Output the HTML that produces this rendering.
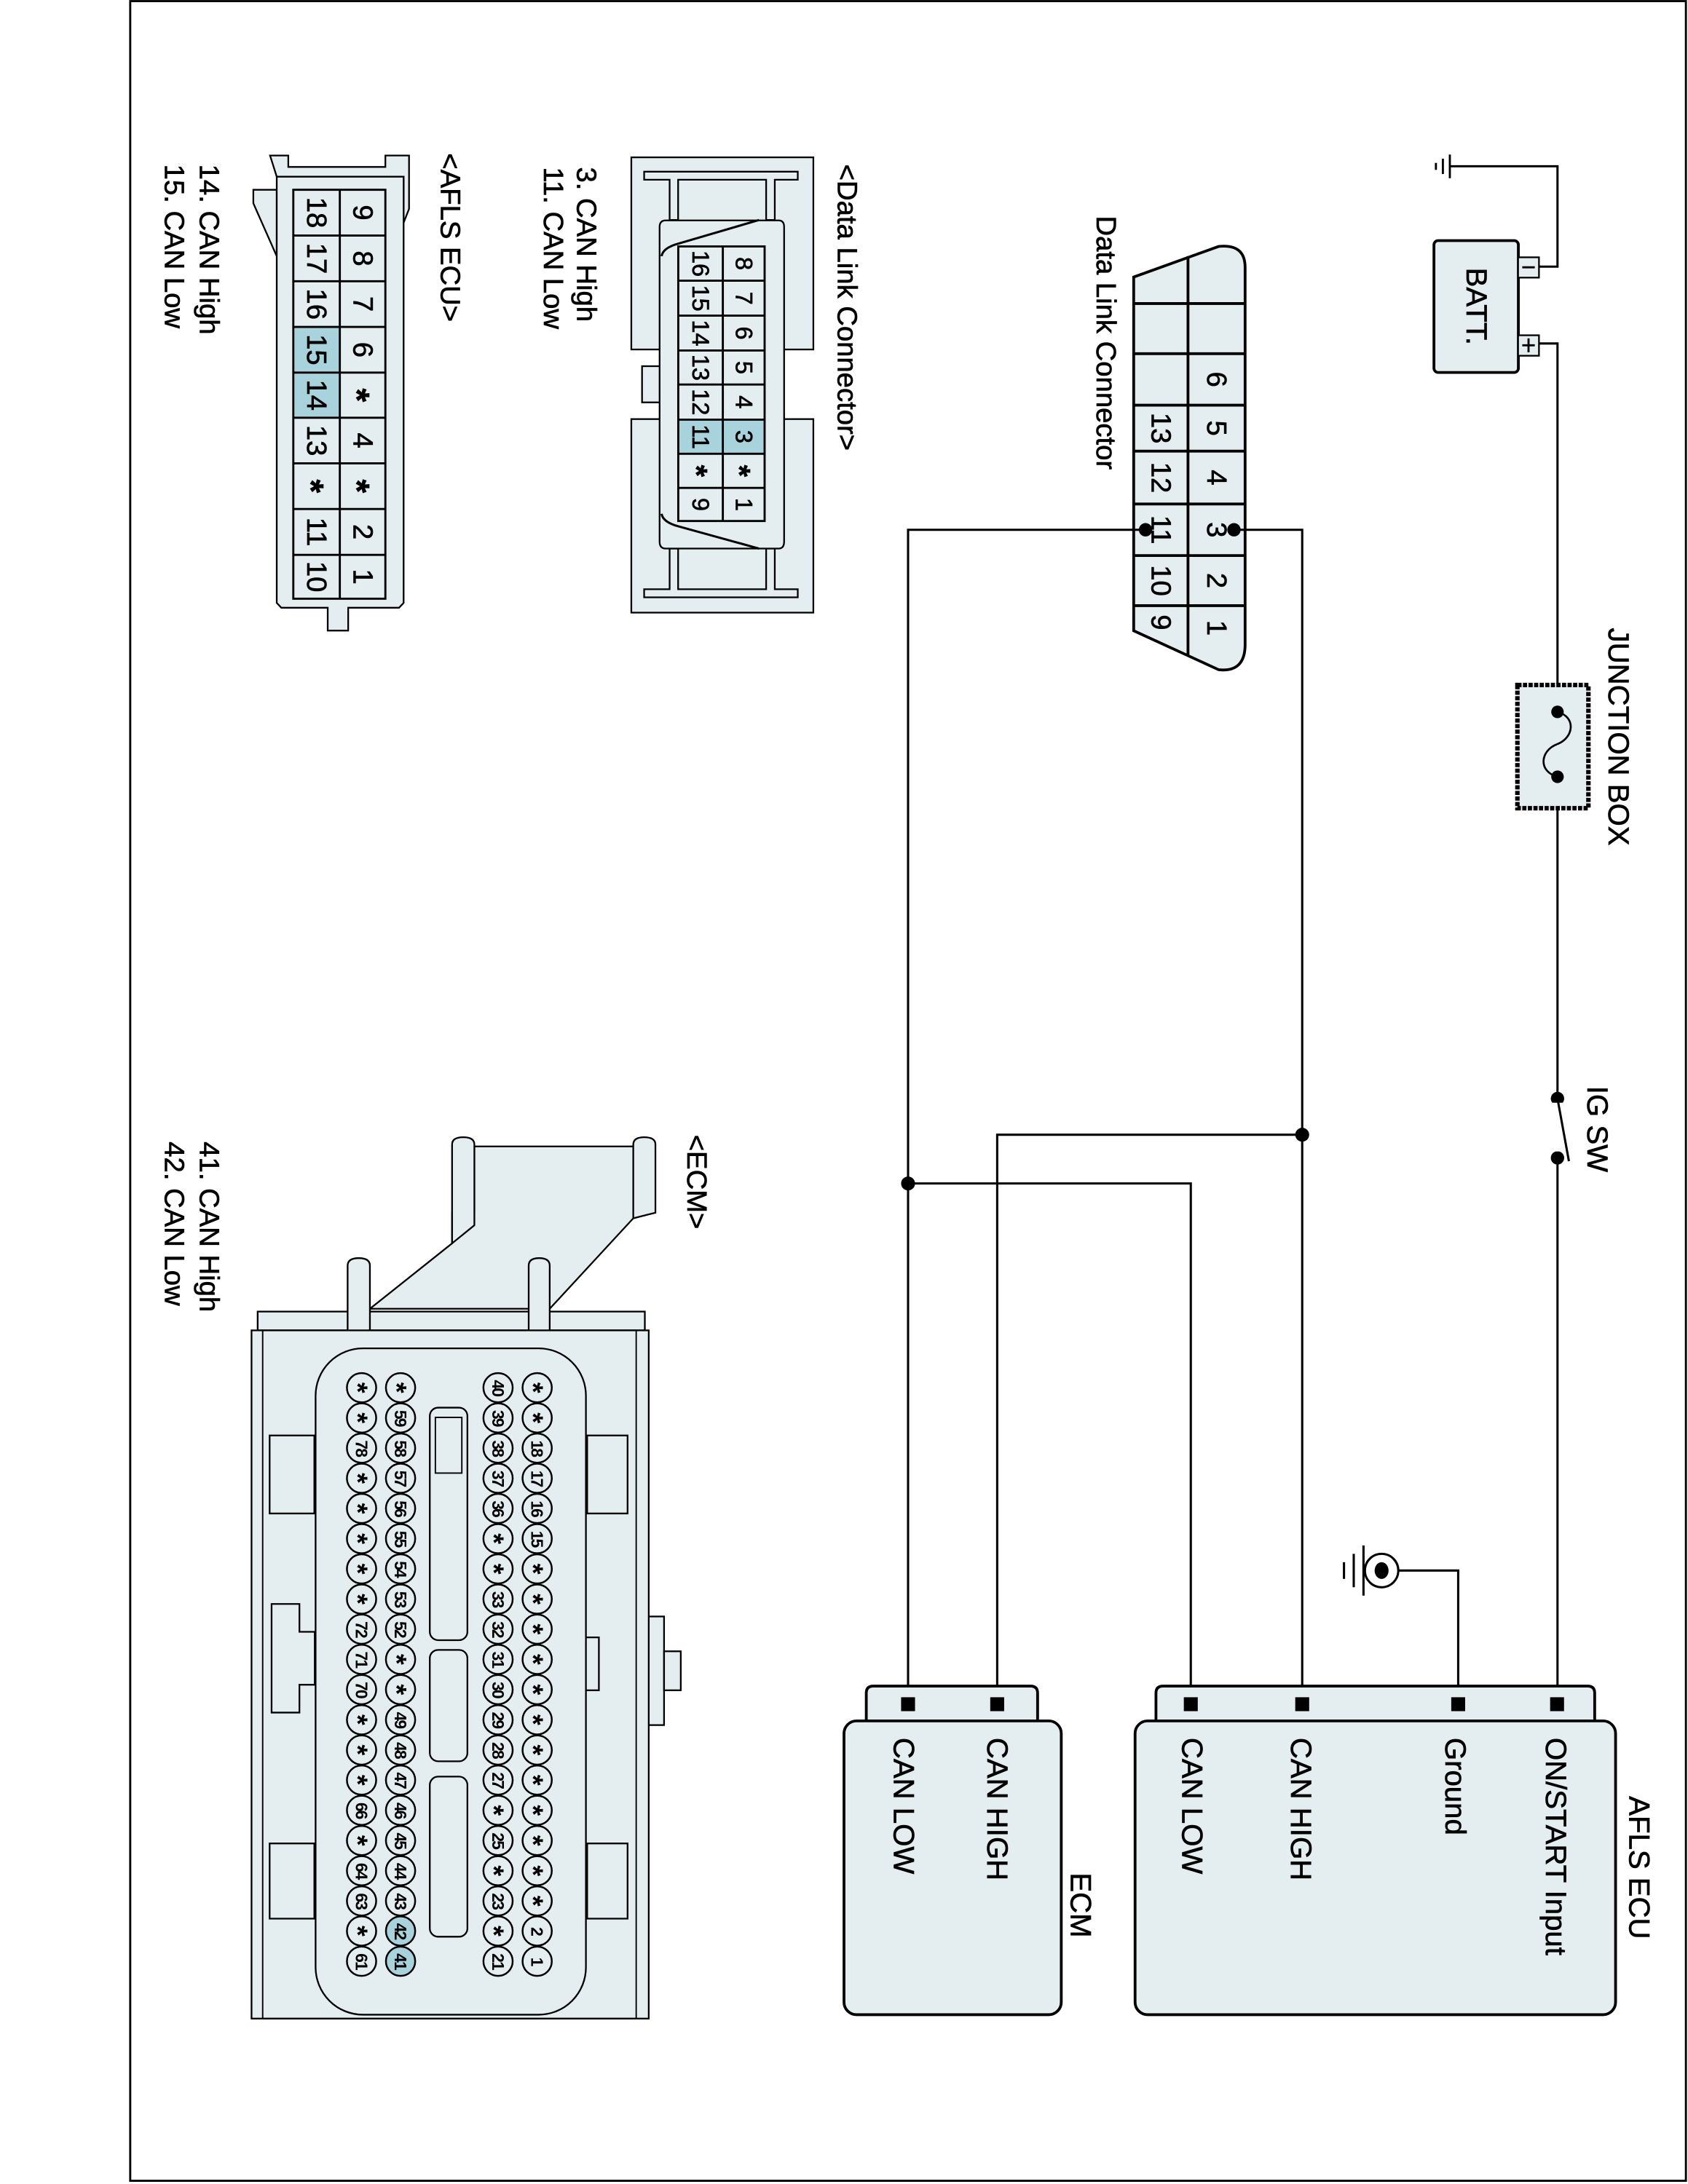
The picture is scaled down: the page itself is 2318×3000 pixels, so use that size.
<!DOCTYPE html>
<html><head><meta charset="utf-8"><style>
html,body{margin:0;padding:0;background:#fff}
svg{display:block}
text{font-family:"Liberation Sans",Arial,sans-serif;fill:#000;dominant-baseline:central;stroke:#000;stroke-width:0.35}
.c{text-anchor:middle}
.w{fill:none;stroke:#000;stroke-width:1.6}
.b{fill:#e4eef0;stroke:#000;stroke-width:2}
.t{fill:#e4eef0;stroke:#000;stroke-width:1.2}
.h{fill:#a9d3dc}
.a{font-weight:bold}
.p text{font-size:12px;font-weight:bold;letter-spacing:-1px;text-anchor:middle;stroke-width:0}
.p text[font-size]{font-size:20px;letter-spacing:0}
.p circle{fill:#e4eef0;stroke:#000;stroke-width:1.3}
</style></head><body>
<svg width="2318" height="3000" viewBox="0 0 1212 1568.6" xmlns="http://www.w3.org/2000/svg">
<rect x="0" y="0" width="1212" height="1569" fill="#fff"/>
<rect x="93.5" y="0.8" width="1117" height="1565.5" fill="none" stroke="#000" stroke-width="1.5"/>

<!-- Battery -->
<rect x="1029.6" y="172.8" width="60.6" height="94.7" rx="3" class="b"/>
<rect x="1090" y="184.8" width="15" height="14.6" class="t"/>
<rect x="1090" y="240.8" width="15" height="14.7" class="t"/>
<line x1="1093" y1="192" x2="1102" y2="192" stroke="#000" stroke-width="1.5"/>
<line x1="1093" y1="248" x2="1102" y2="248" stroke="#000" stroke-width="1.5"/>
<line x1="1097.5" y1="243" x2="1097.5" y2="253" stroke="#000" stroke-width="1.5"/>
<text class="c" font-size="21" transform="translate(1060,220) rotate(90)">BATT.</text>
<path class="w" d="M1105,191.5 H1118.3 V119.4 H1041"/>
<line x1="1041" y1="111" x2="1041" y2="128" stroke="#000" stroke-width="1.5"/>
<line x1="1036" y1="114" x2="1036" y2="125" stroke="#000" stroke-width="1.5"/>
<line x1="1031" y1="117" x2="1031" y2="122" stroke="#000" stroke-width="1.5"/>
<path class="w" d="M1105,246.7 H1118.3 V1224"/>

<!-- Junction box -->
<rect x="1089.5" y="492" width="51" height="88.5" fill="#e4eef0" stroke="#000" stroke-width="3.2" stroke-dasharray="3 1"/>
<circle cx="1118.3" cy="511.3" r="4.5"/>
<circle cx="1118.3" cy="557.9" r="4.5"/>
<path d="M1118.3,511.3 C1132,515 1130,530 1118,534.5 C1106,539 1104,554 1118.3,557.9" fill="none" stroke="#000" stroke-width="1.4"/>
<text font-size="21" transform="translate(1162,451) rotate(90)">JUNCTION BOX</text>

<!-- IG SW -->
<circle cx="1118.3" cy="789" r="4.8"/>
<circle cx="1118.3" cy="831.6" r="4.8"/>
<rect x="1114" y="792" width="9" height="35" fill="#fff"/>
<line x1="1118.3" y1="789" x2="1126.5" y2="834" stroke="#000" stroke-width="1.6"/>
<text font-size="21" transform="translate(1147,780) rotate(90)">IG SW</text>

<!-- DLC front -->
<path class="b" d="M814,199 L875,177 Q894,175 894,192 L894,463 Q894,483 875,481 L814,453 Z"/>
<g stroke="#000" stroke-width="2">
<line x1="814" y1="218" x2="894" y2="218"/><line x1="814" y1="254" x2="894" y2="254"/>
<line x1="814" y1="291" x2="894" y2="291"/><line x1="814" y1="324" x2="894" y2="324"/>
<line x1="814" y1="362" x2="894" y2="362"/><line x1="814" y1="399" x2="894" y2="399"/>
<line x1="814" y1="435" x2="894" y2="435"/><line x1="853" y1="184" x2="853" y2="471"/>
</g>
<g font-size="20" class="c">
<text class="c" transform="translate(873.5,272.5) rotate(90)">6</text>
<text class="c" transform="translate(873.5,307.5) rotate(90)">5</text>
<text class="c" transform="translate(873.5,343) rotate(90)">4</text>
<text class="c" transform="translate(873.5,380.5) rotate(90)">3</text>
<text class="c" transform="translate(873.5,417) rotate(90)">2</text>
<text class="c" transform="translate(873.5,451) rotate(90)">1</text>
<text class="c" transform="translate(833.5,307.5) rotate(90)">13</text>
<text class="c" transform="translate(833.5,343) rotate(90)">12</text>
<text class="c" transform="translate(833.5,380.5) rotate(90)">11</text>
<text class="c" transform="translate(833.5,417) rotate(90)">10</text>
<text class="c" transform="translate(833.5,447) rotate(90)">9</text>
</g>
<text font-size="20" transform="translate(794,155) rotate(90)">Data Link Connector</text>
<circle cx="886" cy="380.5" r="4.8"/>
<circle cx="822.5" cy="380.5" r="4.8"/>

<!-- Wires -->
<path class="w" d="M886,380.5 H935 V1224"/>
<path class="w" d="M822.5,380.5 H652 V1224"/>
<path class="w" d="M935,815 H716 V1224"/>
<path class="w" d="M652,850 H855 V1224"/>
<circle cx="935" cy="815" r="5"/>
<circle cx="652" cy="850" r="5"/>

<!-- AFLS ground -->
<path class="w" d="M1004,1128 H1047 V1224"/>
<circle cx="992" cy="1128" r="12" fill="#fff" stroke="#000" stroke-width="1.6"/>
<ellipse cx="992" cy="1128" rx="5" ry="6"/>
<line x1="979" y1="1110" x2="979" y2="1146" stroke="#000" stroke-width="1.6"/>
<line x1="972" y1="1116" x2="972" y2="1140" stroke="#000" stroke-width="1.6"/>
<line x1="965" y1="1122" x2="965" y2="1134" stroke="#000" stroke-width="1.6"/>

<!-- AFLS ECU box -->
<path class="b" d="M830,1236 V1216 Q830,1211 835,1211 H1140 Q1145,1211 1145,1216 V1236"/>
<rect x="815" y="1236" width="345" height="211" rx="9" class="b"/>
<rect x="1113" y="1219" width="10" height="10"/>
<rect x="1042" y="1219" width="10" height="10"/>
<rect x="930" y="1219" width="10" height="10"/>
<rect x="850" y="1219" width="10" height="10"/>
<g font-size="21">
<text transform="translate(1117,1248) rotate(90)">ON/START Input</text>
<text transform="translate(1045,1248) rotate(90)">Ground</text>
<text transform="translate(934,1248) rotate(90)">CAN HIGH</text>
<text transform="translate(856,1248) rotate(90)">CAN LOW</text>
<text transform="translate(1177,1290) rotate(90)">AFLS ECU</text>
</g>

<!-- ECM box -->
<path class="b" d="M622,1236 V1216 Q622,1211 627,1211 H740 Q745,1211 745,1216 V1236"/>
<rect x="606" y="1236" width="156" height="211" rx="9" class="b"/>
<rect x="711" y="1219" width="10" height="10"/>
<rect x="647" y="1219" width="10" height="10"/>
<g font-size="21">
<text transform="translate(716,1248) rotate(90)">CAN HIGH</text>
<text transform="translate(649,1248) rotate(90)">CAN LOW</text>
<text transform="translate(776,1345) rotate(90)">ECM</text>
</g>

<!-- Left DLC connector drawing -->
<rect x="453.3" y="113" width="130.7" height="138" class="t"/>
<rect x="453.3" y="301" width="130.7" height="139" class="t"/>
<rect x="461" y="263" width="13" height="26" class="t"/>
<path class="t" d="M462.5,123.3 H572.8 V129.1 H556.3 V158 H550.1 V129.1 H486.9 V158 H480.8 V129.1 H462.5 Z"/>
<path class="t" d="M462.5,429 H572.8 V423.2 H556.3 V394 H550.1 V423.2 H486.9 V394 H480.8 V423.2 H462.5 Z"/>
<path class="t" d="M478,158.3 H559 Q563,158.3 563,163 V389 Q563,394 559,394 H478 Q473.6,394 473.6,389 V163 Q473.6,158.3 478,158.3 Z"/>
<path class="w" stroke-width="1.2" d="M475,184 Q476,178 487,175 L545,158"/>
<path class="w" stroke-width="1.2" d="M475,369 Q476,375 487,378 L545,394"/>
<rect x="487" y="301.4" width="62" height="24.5" class="h"/>
<g stroke="#000" stroke-width="1.5" fill="none">
<rect x="487" y="177" width="62" height="197.2"/>
<line x1="519" y1="177" x2="519" y2="374.2"/>
<line x1="487" y1="201.6" x2="549" y2="201.6"/><line x1="487" y1="226.7" x2="549" y2="226.7"/>
<line x1="487" y1="251.7" x2="549" y2="251.7"/><line x1="487" y1="276.2" x2="549" y2="276.2"/>
<line x1="487" y1="301.4" x2="549" y2="301.4"/><line x1="487" y1="325.9" x2="549" y2="325.9"/>
<line x1="487" y1="350.4" x2="549" y2="350.4"/>
</g>
<g font-size="17">
<text class="c" transform="translate(534,189.3) rotate(90)">8</text>
<text class="c" transform="translate(534,214.2) rotate(90)">7</text>
<text class="c" transform="translate(534,239.2) rotate(90)">6</text>
<text class="c" transform="translate(534,264) rotate(90)">5</text>
<text class="c" transform="translate(534,288.8) rotate(90)">4</text>
<text class="c" transform="translate(534,313.7) rotate(90)">3</text>
<text class="c a" font-size="22" transform="translate(531,338.2) rotate(90)">*</text>
<text class="c" transform="translate(534,362.3) rotate(90)">1</text>
<text class="c" transform="translate(503,189.3) rotate(90)">16</text>
<text class="c" transform="translate(503,214.2) rotate(90)">15</text>
<text class="c" transform="translate(503,239.2) rotate(90)">14</text>
<text class="c" transform="translate(503,264) rotate(90)">13</text>
<text class="c" transform="translate(503,288.8) rotate(90)">12</text>
<text class="c" transform="translate(503,313.7) rotate(90)">11</text>
<text class="c a" font-size="22" transform="translate(500,338.2) rotate(90)">*</text>
<text class="c" transform="translate(503,362.3) rotate(90)">9</text>
</g>
<g font-size="20">
<text transform="translate(608,118) rotate(90)">&lt;Data Link Connector&gt;</text>
<text transform="translate(421,120) rotate(90)">3. CAN High</text>
<text transform="translate(397,120) rotate(90)">11. CAN Low</text>
</g>

<!-- AFLS ECU connector drawing -->
<path class="t" d="M193.9,111.7 H207 V119.9 H276.7 V111.7 H293.7 V150 L289.8,160 V126.9 H198.7 Z"/>
<path class="t" d="M181.9,136.3 H198.7 V184 L181.9,146 Z"/>
<path class="t" d="M198.7,126.9 H289.8 V433 L286.5,436.5 H250 V452.9 H235.3 V436.5 H202 L198.7,433 Z"/>
<rect x="210.6" y="234.8" width="33.4" height="65.2" class="h"/>
<g stroke="#000" stroke-width="1.5" fill="none">
<rect x="210.6" y="136.3" width="66.1" height="293.7"/>
<line x1="244" y1="136.3" x2="244" y2="430"/>
<line x1="210.6" y1="169.2" x2="276.7" y2="169.2"/><line x1="210.6" y1="202" x2="276.7" y2="202"/>
<line x1="210.6" y1="234.8" x2="276.7" y2="234.8"/><line x1="210.6" y1="267.6" x2="276.7" y2="267.6"/>
<line x1="210.6" y1="300" x2="276.7" y2="300"/><line x1="210.6" y1="332.8" x2="276.7" y2="332.8"/>
<line x1="210.6" y1="365.6" x2="276.7" y2="365.6"/><line x1="210.6" y1="398.5" x2="276.7" y2="398.5"/>
</g>
<g font-size="20">
<text class="c" transform="translate(260.4,152.7) rotate(90)">9</text>
<text class="c" transform="translate(260.4,185.6) rotate(90)">8</text>
<text class="c" transform="translate(260.4,218.4) rotate(90)">7</text>
<text class="c" transform="translate(260.4,251.2) rotate(90)">6</text>
<text class="c a" font-size="25" transform="translate(256,283.8) rotate(90)">*</text>
<text class="c" transform="translate(260.4,316.4) rotate(90)">4</text>
<text class="c a" font-size="25" transform="translate(256,349.2) rotate(90)">*</text>
<text class="c" transform="translate(260.4,382) rotate(90)">2</text>
<text class="c" transform="translate(260.4,414.2) rotate(90)">1</text>
<text class="c" transform="translate(227.3,152.7) rotate(90)">18</text>
<text class="c" transform="translate(227.3,185.6) rotate(90)">17</text>
<text class="c" transform="translate(227.3,218.4) rotate(90)">16</text>
<text class="c" transform="translate(227.3,251.2) rotate(90)">15</text>
<text class="c" transform="translate(227.3,283.8) rotate(90)">14</text>
<text class="c" transform="translate(227.3,316.4) rotate(90)">13</text>
<text class="c a" font-size="25" transform="translate(223,349.2) rotate(90)">*</text>
<text class="c" transform="translate(227.3,382) rotate(90)">11</text>
<text class="c" transform="translate(227.3,414.2) rotate(90)">10</text>
</g>
<g font-size="20">
<text transform="translate(323,110) rotate(90)">&lt;AFLS ECU&gt;</text>
<text transform="translate(150,118) rotate(90)">14. CAN High</text>
<text transform="translate(125,118) rotate(90)">15. CAN Low</text>
<text transform="translate(500,815) rotate(90)">&lt;ECM&gt;</text>
<text transform="translate(150,820) rotate(90)">41. CAN High</text>
<text transform="translate(125,820) rotate(90)">42. CAN Low</text>
</g>

<!-- ECM connector drawing -->
<path class="t" d="M265.6,940 L324.6,893 V871 H340.6 L340.6,823.4 H454.7 V875 L394.7,940 Z"/>
<path class="t" d="M324.6,893 V822 Q324.6,816.8 332.6,816.8 Q340.6,816.8 340.6,822 V880 Z"/>
<path class="t" d="M454.7,875 V822 Q454.7,816.8 462.7,816.8 Q470.6,816.8 470.6,822 V871 Z"/>
<rect x="185" y="942" width="278" height="13.5" class="t"/>
<path class="t" d="M249.6,958 V909 Q249.6,903.6 257.6,903.6 Q265.6,903.6 265.6,909 V958 Z"/>
<path class="t" d="M379.6,958 V909 Q379.6,903.6 387.1,903.6 Q394.7,903.6 394.7,909 V958 Z"/>
<rect x="465.8" y="1161" width="11" height="78" class="t"/>
<rect x="476.8" y="1186" width="12" height="28" class="t"/>
<rect x="180.6" y="955.5" width="285.2" height="494.3" class="t"/>
<rect x="188.6" y="955.5" width="268.2" height="494.3" fill="none" stroke="#000" stroke-width="1"/>
<path class="t" d="M193.6,1031 H225.7 V1087 H193.6 Z M193.6,1324 H225.7 V1378 H193.6 Z M421.6,1031 H450.6 V1087 H421.6 Z M421.6,1324 H450.6 V1378 H421.6 Z"/>
<path class="t" d="M195,1152 H215 V1172 H226 V1210 H215 V1230 H195 Z"/>
<rect x="418" y="1176" width="12" height="38" class="t"/>
<rect x="226.6" y="968.4" width="194.1" height="478.6" rx="34" class="t"/>
<rect x="308.6" y="1011" width="27" height="167" rx="6" class="t"/>
<rect x="312.6" y="1018" width="19" height="40" fill="none" stroke="#000" stroke-width="1"/>
<rect x="308.6" y="1185" width="27" height="80" rx="6" class="t"/>
<rect x="308.6" y="1276" width="27" height="115" rx="6" class="t"/>

<g class="p" transform="translate(385.7,0)">
<circle cy="996.7" r="10.5"/><circle cy="1018.4" r="10.5"/><circle cy="1040.1" r="10.5"/><circle cy="1061.7" r="10.5"/><circle cy="1083.4" r="10.5"/><circle cy="1105.1" r="10.5"/><circle cy="1126.8" r="10.5"/><circle cy="1148.5" r="10.5"/><circle cy="1170.1" r="10.5"/><circle cy="1191.8" r="10.5"/><circle cy="1213.5" r="10.5"/><circle cy="1235.2" r="10.5"/><circle cy="1256.9" r="10.5"/><circle cy="1278.5" r="10.5"/><circle cy="1300.2" r="10.5"/><circle cy="1321.9" r="10.5"/><circle cy="1343.6" r="10.5"/><circle cy="1365.3" r="10.5"/><circle cy="1386.9" r="10.5"/><circle cy="1408.6" r="10.5"/>
<text transform="translate(-3,996.7) rotate(90)" font-size="20">*</text><text transform="translate(-3,1018.4) rotate(90)" font-size="20">*</text>
<text transform="translate(0,1040.1) rotate(90)">18</text><text transform="translate(0,1061.7) rotate(90)">17</text><text transform="translate(0,1083.4) rotate(90)">16</text><text transform="translate(0,1105.1) rotate(90)">15</text>
<text transform="translate(-3,1126.8) rotate(90)" font-size="20">*</text><text transform="translate(-3,1148.5) rotate(90)" font-size="20">*</text><text transform="translate(-3,1170.1) rotate(90)" font-size="20">*</text><text transform="translate(-3,1191.8) rotate(90)" font-size="20">*</text><text transform="translate(-3,1213.5) rotate(90)" font-size="20">*</text><text transform="translate(-3,1235.2) rotate(90)" font-size="20">*</text><text transform="translate(-3,1256.9) rotate(90)" font-size="20">*</text><text transform="translate(-3,1278.5) rotate(90)" font-size="20">*</text><text transform="translate(-3,1300.2) rotate(90)" font-size="20">*</text><text transform="translate(-3,1321.9) rotate(90)" font-size="20">*</text><text transform="translate(-3,1343.6) rotate(90)" font-size="20">*</text>
<text transform="translate(-3,1365.3) rotate(90)" font-size="20">*</text>
<text transform="translate(0,1386.9) rotate(90)">2</text><text transform="translate(0,1408.6) rotate(90)">1</text>
</g>
<g class="p" transform="translate(357.6,0)">
<circle cy="996.7" r="10.5"/><circle cy="1018.4" r="10.5"/><circle cy="1040.1" r="10.5"/><circle cy="1061.7" r="10.5"/><circle cy="1083.4" r="10.5"/><circle cy="1105.1" r="10.5"/><circle cy="1126.8" r="10.5"/><circle cy="1148.5" r="10.5"/><circle cy="1170.1" r="10.5"/><circle cy="1191.8" r="10.5"/><circle cy="1213.5" r="10.5"/><circle cy="1235.2" r="10.5"/><circle cy="1256.9" r="10.5"/><circle cy="1278.5" r="10.5"/><circle cy="1300.2" r="10.5"/><circle cy="1321.9" r="10.5"/><circle cy="1343.6" r="10.5"/><circle cy="1365.3" r="10.5"/><circle cy="1386.9" r="10.5"/><circle cy="1408.6" r="10.5"/>
<text transform="translate(0,996.7) rotate(90)">40</text><text transform="translate(0,1018.4) rotate(90)">39</text><text transform="translate(0,1040.1) rotate(90)">38</text><text transform="translate(0,1061.7) rotate(90)">37</text><text transform="translate(0,1083.4) rotate(90)">36</text>
<text transform="translate(-3,1105.1) rotate(90)" font-size="20">*</text><text transform="translate(-3,1126.8) rotate(90)" font-size="20">*</text>
<text transform="translate(0,1148.5) rotate(90)">33</text><text transform="translate(0,1170.1) rotate(90)">32</text><text transform="translate(0,1191.8) rotate(90)">31</text><text transform="translate(0,1213.5) rotate(90)">30</text><text transform="translate(0,1235.2) rotate(90)">29</text><text transform="translate(0,1256.9) rotate(90)">28</text><text transform="translate(0,1278.5) rotate(90)">27</text>
<text transform="translate(-3,1300.2) rotate(90)" font-size="20">*</text><text transform="translate(0,1321.9) rotate(90)">25</text><text transform="translate(-3,1343.6) rotate(90)" font-size="20">*</text><text transform="translate(0,1365.3) rotate(90)">23</text><text transform="translate(-3,1386.9) rotate(90)" font-size="20">*</text><text transform="translate(0,1408.6) rotate(90)">21</text>
</g>
<g class="p" transform="translate(287.6,0)">
<circle cy="996.7" r="10.5"/><circle cy="1018.4" r="10.5"/><circle cy="1040.1" r="10.5"/><circle cy="1061.7" r="10.5"/><circle cy="1083.4" r="10.5"/><circle cy="1105.1" r="10.5"/><circle cy="1126.8" r="10.5"/><circle cy="1148.5" r="10.5"/><circle cy="1170.1" r="10.5"/><circle cy="1191.8" r="10.5"/><circle cy="1213.5" r="10.5"/><circle cy="1235.2" r="10.5"/><circle cy="1256.9" r="10.5"/><circle cy="1278.5" r="10.5"/><circle cy="1300.2" r="10.5"/><circle cy="1321.9" r="10.5"/><circle cy="1343.6" r="10.5"/><circle cy="1365.3" r="10.5"/><circle cy="1386.9" r="10.5" style="fill:#a9d3dc"/><circle cy="1408.6" r="10.5" style="fill:#a9d3dc"/>
<text transform="translate(-3,996.7) rotate(90)" font-size="20">*</text>
<text transform="translate(0,1018.4) rotate(90)">59</text><text transform="translate(0,1040.1) rotate(90)">58</text><text transform="translate(0,1061.7) rotate(90)">57</text><text transform="translate(0,1083.4) rotate(90)">56</text><text transform="translate(0,1105.1) rotate(90)">55</text><text transform="translate(0,1126.8) rotate(90)">54</text><text transform="translate(0,1148.5) rotate(90)">53</text><text transform="translate(0,1170.1) rotate(90)">52</text>
<text transform="translate(-3,1191.8) rotate(90)" font-size="20">*</text><text transform="translate(-3,1213.5) rotate(90)" font-size="20">*</text>
<text transform="translate(0,1235.2) rotate(90)">49</text><text transform="translate(0,1256.9) rotate(90)">48</text><text transform="translate(0,1278.5) rotate(90)">47</text><text transform="translate(0,1300.2) rotate(90)">46</text><text transform="translate(0,1321.9) rotate(90)">45</text><text transform="translate(0,1343.6) rotate(90)">44</text><text transform="translate(0,1365.3) rotate(90)">43</text><text transform="translate(0,1386.9) rotate(90)">42</text><text transform="translate(0,1408.6) rotate(90)">41</text>
</g>
<g class="p" transform="translate(259.6,0)">
<circle cy="996.7" r="10.5"/><circle cy="1018.4" r="10.5"/><circle cy="1040.1" r="10.5"/><circle cy="1061.7" r="10.5"/><circle cy="1083.4" r="10.5"/><circle cy="1105.1" r="10.5"/><circle cy="1126.8" r="10.5"/><circle cy="1148.5" r="10.5"/><circle cy="1170.1" r="10.5"/><circle cy="1191.8" r="10.5"/><circle cy="1213.5" r="10.5"/><circle cy="1235.2" r="10.5"/><circle cy="1256.9" r="10.5"/><circle cy="1278.5" r="10.5"/><circle cy="1300.2" r="10.5"/><circle cy="1321.9" r="10.5"/><circle cy="1343.6" r="10.5"/><circle cy="1365.3" r="10.5"/><circle cy="1386.9" r="10.5"/><circle cy="1408.6" r="10.5"/>
<text transform="translate(-3,996.7) rotate(90)" font-size="20">*</text><text transform="translate(-3,1018.4) rotate(90)" font-size="20">*</text>
<text transform="translate(0,1040.1) rotate(90)">78</text>
<text transform="translate(-3,1061.7) rotate(90)" font-size="20">*</text><text transform="translate(-3,1083.4) rotate(90)" font-size="20">*</text><text transform="translate(-3,1105.1) rotate(90)" font-size="20">*</text><text transform="translate(-3,1126.8) rotate(90)" font-size="20">*</text><text transform="translate(-3,1148.5) rotate(90)" font-size="20">*</text>
<text transform="translate(0,1170.1) rotate(90)">72</text><text transform="translate(0,1191.8) rotate(90)">71</text><text transform="translate(0,1213.5) rotate(90)">70</text>
<text transform="translate(-3,1235.2) rotate(90)" font-size="20">*</text><text transform="translate(-3,1256.9) rotate(90)" font-size="20">*</text><text transform="translate(-3,1278.5) rotate(90)" font-size="20">*</text>
<text transform="translate(0,1300.2) rotate(90)">66</text><text transform="translate(-3,1321.9) rotate(90)" font-size="20">*</text><text transform="translate(0,1343.6) rotate(90)">64</text><text transform="translate(0,1365.3) rotate(90)">63</text><text transform="translate(-3,1386.9) rotate(90)" font-size="20">*</text><text transform="translate(0,1408.6) rotate(90)">61</text>
</g>
</svg>
</body></html>
